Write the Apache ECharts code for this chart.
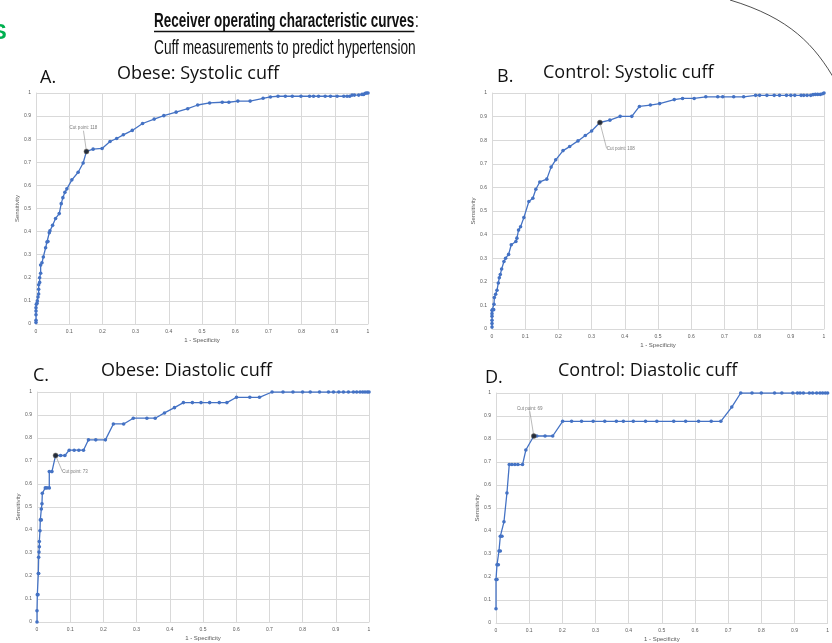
<!DOCTYPE html>
<html><head><meta charset="utf-8">
<script src="https://cdn.jsdelivr.net/npm/echarts@6/dist/echarts.min.js"></script>
<style>html,body{margin:0;padding:0;background:#fff}#c{width:832px;height:643px}</style>
</head><body><div id="c"></div>
<script>
// ---- data (1 - specificity, sensitivity) ----
const obeseSysX = [0,0,0,0,0,0.001,0.003,0.004,0.006,0.008,0.008,0.008,0.011,0.011,0.014,0.014,0.018,0.022,0.029,0.033,0.036,0.040,0.042,0.050,0.059,0.070,0.076,0.081,0.087,0.093,0.108,0.127,0.142,0.152,0.172,0.199,0.223,0.243,0.263,0.290,0.321,0.356,0.385,0.422,0.457,0.487,0.523,0.561,0.581,0.608,0.645,0.684,0.706,0.729,0.751,0.772,0.798,0.824,0.836,0.851,0.871,0.887,0.907,0.927,0.937,0.945,0.952,0.959,0.972,0.982,0.987,0.992,0.996,1];
const obeseSysY = [0.006,0.016,0.040,0.056,0.070,0.085,0.090,0.100,0.117,0.130,0.150,0.170,0.180,0.200,0.220,0.255,0.265,0.290,0.330,0.355,0.357,0.395,0.404,0.427,0.457,0.478,0.521,0.547,0.570,0.585,0.624,0.657,0.697,0.747,0.757,0.760,0.790,0.803,0.819,0.838,0.868,0.887,0.902,0.917,0.932,0.948,0.957,0.960,0.960,0.965,0.965,0.977,0.983,0.986,0.986,0.986,0.986,0.986,0.986,0.986,0.986,0.986,0.986,0.986,0.986,0.986,0.991,0.991,0.991,0.994,0.994,0.999,1,1];
const obeseSysCut = [0.152, 0.747];

const controlSysX = [0,0,0,0,0,0,0.002,0.005,0.006,0.007,0.011,0.015,0.019,0.022,0.025,0.029,0.036,0.041,0.050,0.058,0.072,0.075,0.080,0.086,0.096,0.111,0.123,0.132,0.144,0.165,0.178,0.192,0.214,0.234,0.259,0.281,0.300,0.325,0.355,0.386,0.421,0.444,0.477,0.505,0.549,0.574,0.609,0.644,0.680,0.695,0.728,0.758,0.794,0.806,0.828,0.850,0.866,0.887,0.900,0.912,0.931,0.939,0.949,0.960,0.967,0.974,0.981,0.989,0.996,1];
const controlSysY = [0.008,0.023,0.037,0.054,0.065,0.079,0.082,0.082,0.105,0.133,0.147,0.164,0.195,0.217,0.231,0.254,0.286,0.300,0.316,0.357,0.371,0.385,0.419,0.433,0.472,0.540,0.554,0.592,0.623,0.635,0.686,0.717,0.756,0.773,0.797,0.820,0.839,0.875,0.885,0.901,0.901,0.943,0.949,0.955,0.972,0.977,0.977,0.984,0.984,0.984,0.984,0.984,0.990,0.990,0.990,0.990,0.990,0.990,0.990,0.990,0.990,0.990,0.990,0.990,0.993,0.994,0.994,0.994,0.997,1];
const controlSysCut = [0.325, 0.875];

const obeseDiaX = [0,0,0.001,0.003,0.004,0.005,0.005,0.006,0.007,0.007,0.009,0.010,0.013,0.013,0.015,0.016,0.025,0.030,0.037,0.037,0.045,0.056,0.071,0.084,0.097,0.112,0.126,0.140,0.155,0.177,0.206,0.230,0.261,0.290,0.331,0.356,0.384,0.414,0.441,0.468,0.494,0.520,0.549,0.572,0.601,0.641,0.670,0.708,0.741,0.771,0.800,0.823,0.851,0.878,0.893,0.909,0.923,0.938,0.953,0.963,0.973,0.981,0.988,0.995,1];
const obeseDiaY = [0,0.049,0.119,0.119,0.211,0.211,0.281,0.304,0.327,0.350,0.397,0.444,0.444,0.491,0.514,0.560,0.583,0.583,0.583,0.654,0.654,0.724,0.724,0.724,0.747,0.747,0.747,0.747,0.792,0.792,0.792,0.861,0.861,0.886,0.886,0.886,0.909,0.932,0.954,0.954,0.954,0.954,0.954,0.954,0.977,0.977,0.977,1,1,1,1,1,1,1,1,1,1,1,1,1,1,1,1,1,1];
const obeseDiaCut = [0.056, 0.724];

const controlDiaX = [0,0,0.003,0.003,0.007,0.009,0.013,0.013,0.018,0.024,0.033,0.040,0.048,0.057,0.066,0.080,0.090,0.114,0.123,0.148,0.171,0.201,0.228,0.258,0.293,0.328,0.363,0.384,0.414,0.451,0.485,0.536,0.572,0.611,0.649,0.678,0.711,0.738,0.772,0.800,0.840,0.862,0.895,0.909,0.917,0.927,0.945,0.955,0.967,0.977,0.985,0.993,1];
const controlDiaY = [0.062,0.189,0.189,0.253,0.253,0.313,0.313,0.377,0.377,0.440,0.565,0.689,0.689,0.689,0.689,0.689,0.752,0.813,0.813,0.813,0.813,0.877,0.877,0.877,0.877,0.877,0.877,0.877,0.877,0.877,0.877,0.877,0.877,0.877,0.877,0.877,0.939,1,1,1,1,1,1,1,1,1,1,1,1,1,1,1,1];
const controlDiaCut = [0.114, 0.813];

const panelLetters = ['A.', 'B.', 'C.', 'D.'];
const panelTitles = ['Obese: Systolic cuff', 'Control: Systolic cuff', 'Obese: Diastolic cuff', 'Control: Diastolic cuff'];
const cutLabels = ['Cut point: 118', 'Cut point: 108', 'Cut point: 73', 'Cut point: 69'];
const xAxisTitle = '1 - Specificity';
const yAxisTitle = 'Sensitivity';
const mainTitle = 'Receiver operating characteristic curves';
const subTitle = 'Cuff measurements to predict hypertension';

// ---- layout / style ----
const BLUE = '#4472C4';
const GRIDC = '#d9d9d9';
const TXT = '#595959';
const grids = [
  {left: 36, top: 93, width: 332, height: 231},
  {left: 492, top: 93, width: 332, height: 236},
  {left: 37, top: 392, width: 332, height: 230},
  {left: 496, top: 393, width: 332, height: 230}
];
const cutLayouts = [
  {pos: 'top', dx: -3, dy: -16},
  {pos: 'right', dx: 2, dy: 26},
  {pos: 'right', dx: 2, dy: 16},
  {pos: 'top', dx: -4, dy: -20}
];
const sets = [
  [obeseSysX, obeseSysY, obeseSysCut],
  [controlSysX, controlSysY, controlSysCut],
  [obeseDiaX, obeseDiaY, obeseDiaCut],
  [controlDiaX, controlDiaY, controlDiaCut]
];
const zip = (xs, ys) => xs.map((x, i) => [x, ys[i]]);

const axisCommon = {
  type: 'value', min: 0, max: 1, interval: 0.1,
  axisLine: {show: true, lineStyle: {color: GRIDC, width: 1}},
  axisTick: {show: false},
  splitLine: {show: true, lineStyle: {color: GRIDC, width: 1}},
  axisLabel: {color: TXT, fontSize: 5, fontFamily: 'Liberation Sans', margin: 5},
  nameLocation: 'middle',
  nameTextStyle: {color: TXT, fontSize: 6, fontFamily: 'Liberation Sans'}
};

const xAxes = [], yAxes = [], series = [];
grids.forEach((g, i) => {
  xAxes.push(Object.assign({}, axisCommon, {gridIndex: i, name: xAxisTitle, nameGap: 13}));
  yAxes.push(Object.assign({}, axisCommon, {gridIndex: i, name: yAxisTitle, nameGap: 16, nameRotate: 90}));
  const [xs, ys, cut] = sets[i];
  series.push({
    type: 'line', xAxisIndex: i, yAxisIndex: i,
    data: zip(xs, ys),
    symbol: 'circle', symbolSize: 3.6, showSymbol: true,
    lineStyle: {color: BLUE, width: 1.3},
    itemStyle: {color: BLUE},
    animation: false, silent: true
  });
  const L = cutLayouts[i];
  series.push({
    type: 'scatter', xAxisIndex: i, yAxisIndex: i, z: 5,
    data: [cut],
    symbol: 'circle', symbolSize: 5,
    itemStyle: {color: '#1a1a1a', borderColor: '#555', borderWidth: 0.5},
    label: {show: true, position: L.pos, distance: 2, formatter: cutLabels[i], fontSize: 4.5, color: TXT, fontFamily: 'Liberation Sans'},
    labelLayout: {dx: L.dx, dy: L.dy},
    labelLine: {show: true, lineStyle: {color: '#8c8c8c', width: 0.6}},
    animation: false, silent: true
  });
});

// header text: condensed sans (scaled Liberation Sans)
const headFam = "'Liberation Sans', Arial, sans-serif";
const boldFont = "bold 20px " + headFam;
const regFont = "20px " + headFam;
const SX = 0.675;
const mctx = document.createElement('canvas').getContext('2d');
mctx.font = boldFont;
const boldW = mctx.measureText(mainTitle).width * SX;
const HX = 154;

const panelFont = "18px 'Open Sans', Lato, sans-serif";
const titleSpots = [
  {lx: 40, ly: 69, tx: 117, ty: 65},
  {lx: 497, ly: 68, tx: 543, ty: 64},
  {lx: 33, ly: 367, tx: 101, ty: 362},
  {lx: 485, ly: 369, tx: 558, ty: 362}
];
const graphic = [
  {type: 'text', x: HX, y: 11, scaleX: SX, style: {text: mainTitle, font: boldFont, fill: '#111', verticalAlign: 'top'}},
  {type: 'text', x: HX + boldW + 0.5, y: 11, scaleX: SX, style: {text: ':', font: regFont, fill: '#111', verticalAlign: 'top'}},
  {type: 'line', shape: {x1: HX, y1: 31.5, x2: HX + boldW, y2: 31.5}, style: {stroke: '#111', lineWidth: 1.3}},
  {type: 'text', x: HX, y: 38, scaleX: 0.685, style: {text: subTitle, font: regFont, fill: '#111', verticalAlign: 'top'}},
  {type: 'text', x: -8, y: 22, style: {text: 'S', font: "bold 22px 'Liberation Sans'", fill: '#00B050', verticalAlign: 'top'}},
  {type: 'bezierCurve', shape: {x1: 730, y1: 0, cpx1: 790, cpy1: 18, cpx2: 815, cpy2: 45, x2: 836, y2: 82}, style: {stroke: '#222', lineWidth: 0.8, fill: null}}
];
titleSpots.forEach((s, i) => {
  graphic.push({type: 'text', x: s.lx, y: s.ly, style: {text: panelLetters[i], font: panelFont, fill: '#111', verticalAlign: 'top'}});
  graphic.push({type: 'text', x: s.tx, y: s.ty, style: {text: panelTitles[i], font: panelFont, fill: '#111', verticalAlign: 'top'}});
});

const chart = echarts.init(document.getElementById('c'), null, {renderer: 'canvas'});
chart.setOption({
  backgroundColor: '#fff',
  animation: false,
  grid: grids,
  xAxis: xAxes,
  yAxis: yAxes,
  series: series,
  graphic: graphic
});
</script></body></html>
